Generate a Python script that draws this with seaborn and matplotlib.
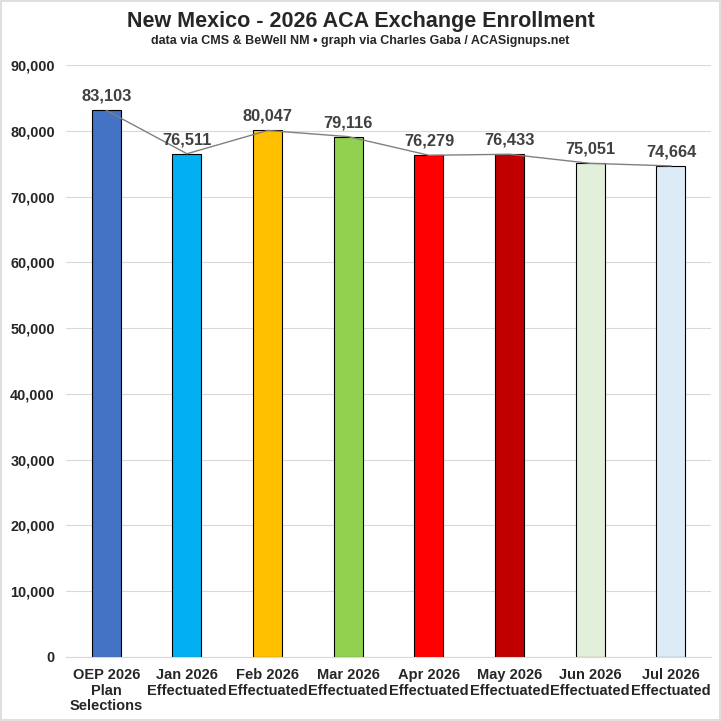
import numpy as np
import pandas as pd
import matplotlib
matplotlib.use('Agg')
import matplotlib.pyplot as plt
import seaborn as sns
from matplotlib.ticker import FuncFormatter

categories = ['OEP 2026\nPlan\nSelections', 'Jan 2026\nEffectuated', 'Feb 2026\nEffectuated',
              'Mar 2026\nEffectuated', 'Apr 2026\nEffectuated', 'May 2026\nEffectuated',
              'Jun 2026\nEffectuated', 'Jul 2026\nEffectuated']
enrollment = [83103, 76511, 80047, 79116, 76279, 76433, 75051, 74664]
bar_colors = ['#4472C4', '#00B0F0', '#FFC000', '#92D050', '#FF0000', '#C00000', '#E2EFDA', '#DDEBF7']

sns.set_style('white')
plt.rcParams['font.family'] = ['Liberation Sans', 'DejaVu Sans']

df = pd.DataFrame({'label': categories, 'value': enrollment})

fig = plt.figure(figsize=(7.21, 7.21), dpi=100)
ax = fig.add_axes([0.0915, 0.0888, 0.895, 0.821])

sns.barplot(data=df, x='label', y='value', hue='label', palette=bar_colors, saturation=1,
            legend=False, width=0.36, edgecolor='black', linewidth=0.8, ax=ax, zorder=2)
ax.plot(range(len(enrollment)), enrollment, color='#808080', linewidth=1.0, zorder=3)

for i, v in enumerate(enrollment):
    ax.text(i, v + 1000, f'{v:,}', ha='center', va='bottom', fontsize=11.8,
            fontweight='bold', color='#404040')

ax.set_ylim(0, 90000)
ax.set_xlim(-0.5, len(enrollment) - 0.5)
ax.set_yticks(range(0, 90001, 10000))
ax.yaxis.set_major_formatter(FuncFormatter(lambda x, p: f'{int(x):,}'))
ax.grid(axis='y', color='#d9d9d9', linewidth=0.8, zorder=0)
ax.set_axisbelow(True)
for s in ['top', 'right', 'left']:
    ax.spines[s].set_visible(False)
ax.spines['bottom'].set_color('#d9d9d9')
ax.tick_params(axis='y', length=0, labelsize=10.4, pad=8)
ax.tick_params(axis='x', length=0, labelsize=10.5, pad=8)
for lbl in ax.get_xticklabels():
    lbl.set_fontweight('bold')
    lbl.set_linespacing(1.15)
for lbl in ax.get_yticklabels():
    lbl.set_fontweight('bold')
ax.set_xlabel('')
ax.set_ylabel('')

fig.text(0.5, 0.970, 'New Mexico - 2026 ACA Exchange Enrollment', ha='center', va='center',
         fontsize=15.5, fontweight='bold')
fig.text(0.5, 0.943, 'data via CMS & BeWell NM \u2022 graph via Charles Gaba / ACASignups.net',
         ha='center', va='center', fontsize=9, fontweight='bold')

fig.patches.append(plt.Rectangle((0.002, 0.002), 0.996, 0.996, transform=fig.transFigure,
                                 fill=False, edgecolor='#d9d9d9', linewidth=1.2))

fig.savefig('out.png', dpi=100)
